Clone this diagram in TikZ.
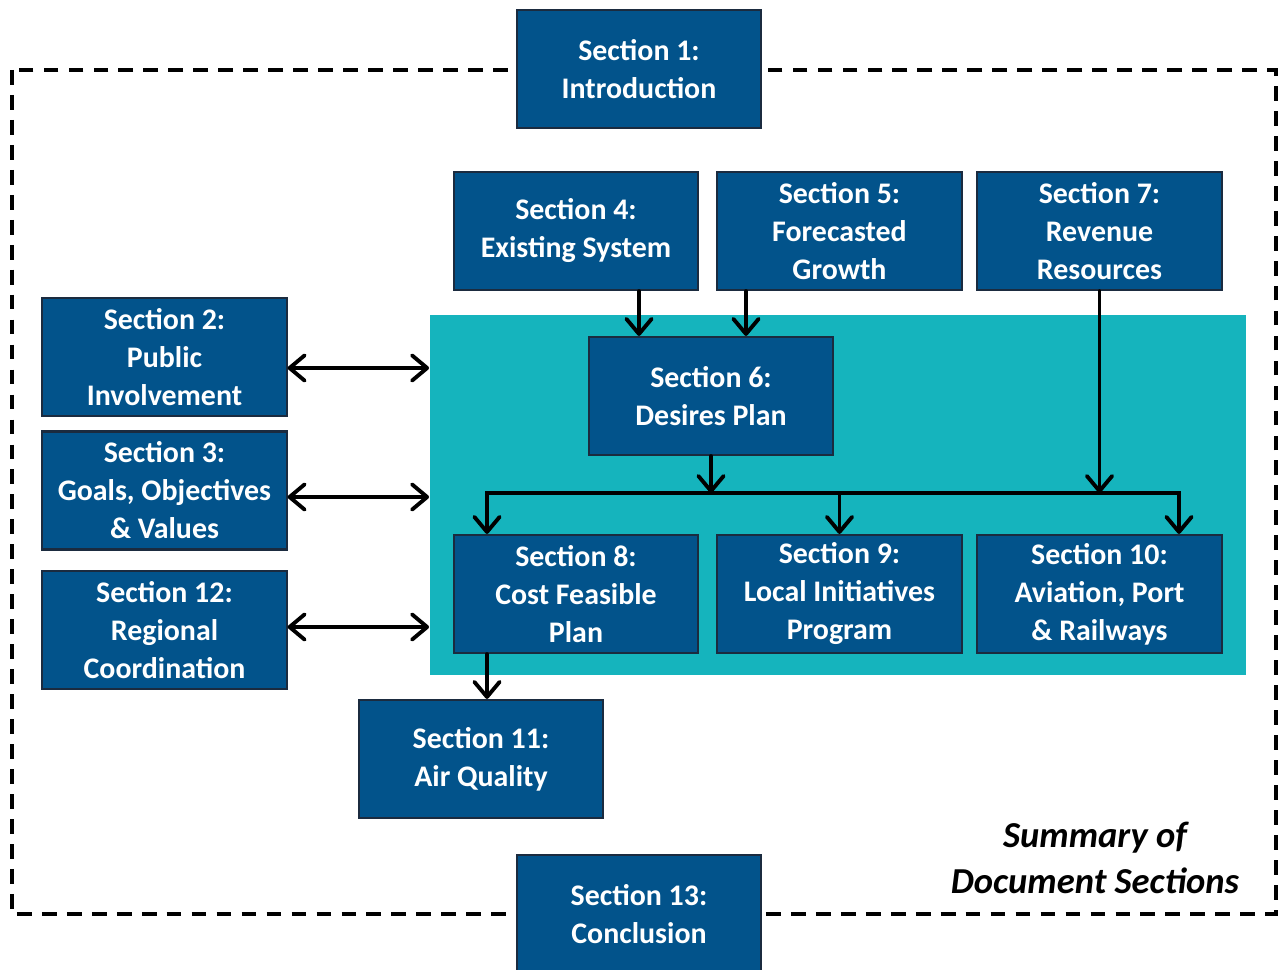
\documentclass[tikz,border=0pt]{standalone}
\usepackage{fontspec}
\setmainfont{Carlito}
\usetikzlibrary{arrows.meta}
\definecolor{secblue}{HTML}{02538B}
\definecolor{secedge}{HTML}{1B2B3F}
\definecolor{planteal}{HTML}{15B4BD}

\begin{document}
\begin{tikzpicture}[x=0.01cm,y=-0.01cm,
  sec/.style={draw=secedge,line width=0.6pt,fill=secblue,text=white,align=center,
    font=\fontsize{8.5}{10.8}\selectfont\bfseries,minimum width=2.44cm,minimum height=1.18cm,inner sep=1pt},
  link/.style={line width=1.1pt,line cap=round,-{Straight Barb[length=4.3pt,width=7.2pt,round]}},
  dlink/.style={line width=1.1pt,line cap=round,{Straight Barb[length=4.3pt,width=7.2pt,round]}-{Straight Barb[length=4.3pt,width=7.2pt,round]}}]
  \useasboundingbox (0,0) rectangle (1278,970);
  \draw[line width=1.1pt,dash pattern=on 4.2pt off 2.9pt] (12,70) rectangle (1276,914);
  \node[fill=planteal,inner sep=0,minimum width=8.16cm,minimum height=3.6cm] (plan) at (838,495) {};
  \node[sec] (s1)  at (639,69)    {Section 1:\\Introduction};
  \node[sec] (s4)  at (576,231)   {Section 4:\\Existing System};
  \node[sec] (s5)  at (839.5,231) {Section 5:\\Forecasted\\Growth};
  \node[sec] (s7)  at (1099.5,231) {Section 7:\\Revenue\\Resources};
  \node[sec] (s2)  at (164.5,357) {Section 2:\\Public\\Involvement};
  \node[sec] (s3)  at (164.5,490.5) {Section 3:\\Goals, Objectives\\\& Values};
  \node[sec] (s12) at (164.5,630) {Section 12:\\Regional\\Coordination};
  \node[sec] (s6)  at (711,396)   {Section 6:\\Desires Plan};
  \node[sec] (s8)  at (576,594)   {Section 8:\\Cost Feasible\\Plan};
  \node[sec] (s9)  at (839.5,594) {Section 9:\\Local Initiatives\\Program};
  \node[sec] (s10) at (1099.5,594) {Section 10:\\Aviation, Port\\\& Railways};
  \node[sec] (s11) at (481,759)   {Section 11:\\Air Quality};
  \node[sec] (s13) at (639,914)   {Section 13:\\Conclusion};
  \node[font=\fontsize{10.4}{13}\selectfont\bfseries\itshape,align=center] (title) at (1095,858) {Summary of\\Document Sections};
  \coordinate (busL) at (487,493);
  \coordinate (busR) at (1179,493);
  \draw[link] (s4.south -| 639,0) -- (s6.north -| 639,0);
  \draw[link] (s5.south -| 746,0) -- (s6.north -| 746,0);
  \draw[link] (s6.south) -- (s6.south |- busL);
  \draw[link] (s7.south) -- (s7.south |- busL);
  \draw[dlink] (s8.north -| busL) |- (busR) -- (s10.north -| busR);
  \draw[link] (s9.north |- busL) -- (s9.north);
  \draw[link] (s8.south -| busL) -- (s11.north -| busL);
  \draw[dlink] (s2.east |- 0,368) -- (plan.west |- 0,368);
  \draw[dlink] (s3.east |- 0,497) -- (plan.west |- 0,497);
  \draw[dlink] (s12.east |- 0,627) -- (plan.west |- 0,627);
\end{tikzpicture}
\end{document}
